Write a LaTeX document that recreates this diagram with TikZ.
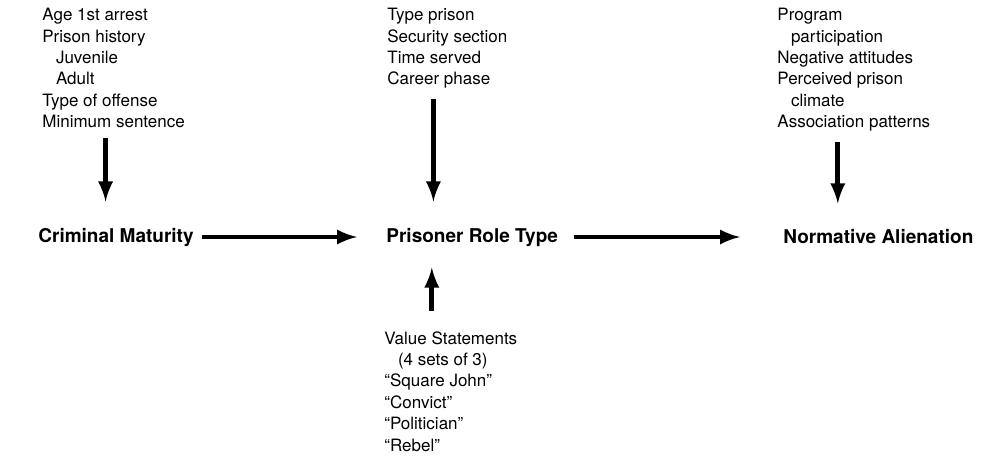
\documentclass[tikz,border=0pt]{standalone}
\usepackage{fontspec}
\setmainfont{TeX Gyre Heros}
\usetikzlibrary{positioning}
\tikzset{
  lst/.style={align=left, anchor=north west, inner sep=0pt, font=\fontsize{8.5}{10.7}\selectfont},
  var/.style={anchor=west, inner sep=0pt, font=\bfseries\fontsize{9.5}{11}\selectfont},
  arr/.style={-latex, line width=2.4pt},
}
\newcommand{\ind}{\hspace*{0.8em}}

\begin{document}
\begin{tikzpicture}[x=0.5pt, y=-0.5pt]
  \path[use as bounding box] (0,0) rectangle (999,461);

  \node[var] (cm) at (38,237) {Criminal Maturity};
  \node[var] (prt) at (386,237) {Prisoner Role Type};
  \node[var] (na) at (783,237) {Normative Alienation};

  \node[lst] (crim) at (42,8) {Age 1st arrest\\Prison history\\\ind Juvenile\\\ind Adult\\Type of offense\\Minimum sentence};
  \node[lst] (inst) at (387,8) {Type prison\\Security section\\Time served\\Career phase};
  \node[lst] (alien) at (777,8) {Program\\\ind participation\\Negative attitudes\\Perceived prison\\\ind climate\\Association patterns};
  \node[lst] (vals) at (384,331) {Value Statements\\\ind(4 sets of 3)\\``Square John''\\``Convict''\\``Politician''\\``Rebel''};

  \path[arr] ([xshift=-4pt]crim.south) edge[shorten <=5pt, shorten >=13pt] ([xshift=-4pt]crim.south |- cm.north);
  \path[arr] ([xshift=-7pt]inst.south) edge[shorten <=5pt, shorten >=13pt] ([xshift=-7pt]inst.south |- prt.north);
  \path[arr] ([xshift=-8pt]alien.south) edge[shorten <=5pt, shorten >=13pt] ([xshift=-8pt]alien.south |- na.north);
  \path[arr] ([xshift=-9.5pt]vals.north) edge[shorten <=10pt, shorten >=10.5pt] ([xshift=-9.5pt]vals.north |- prt.south);

  \path[arr] (cm) edge[shorten <=4pt, shorten >=14.5pt] (prt);
  \path[arr] (prt) edge[shorten <=8pt, shorten >=21.5pt] (na);
\end{tikzpicture}
\end{document}
